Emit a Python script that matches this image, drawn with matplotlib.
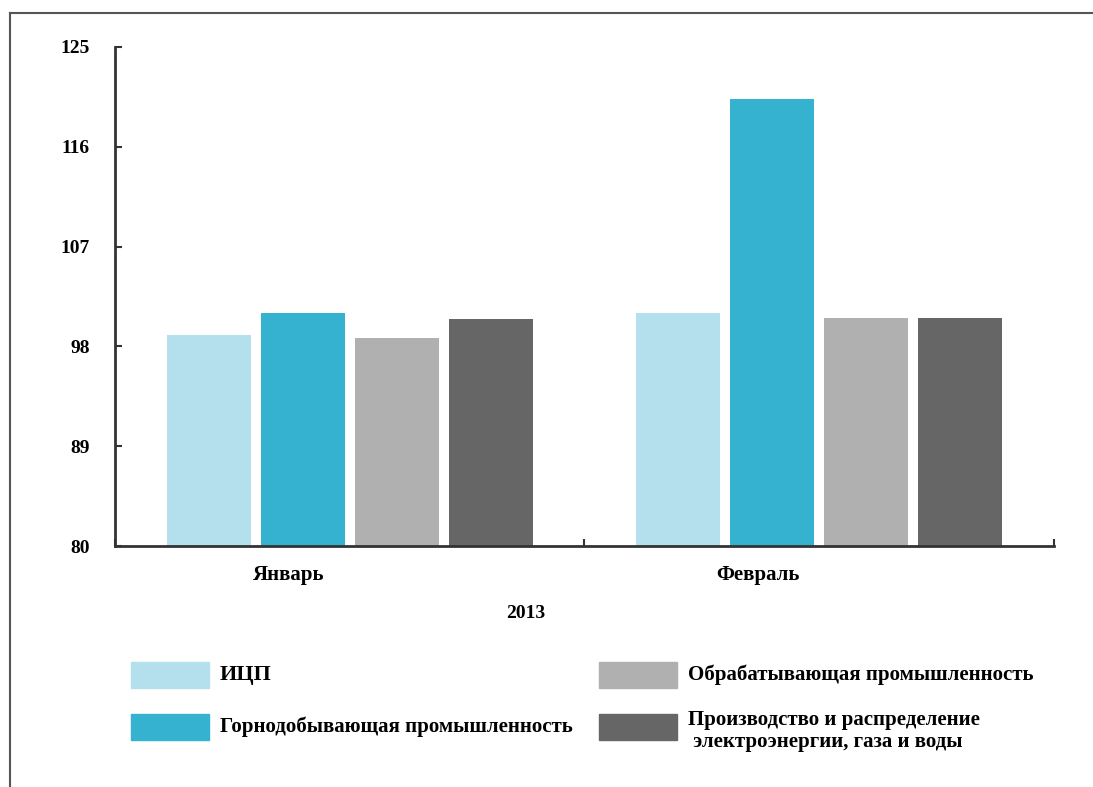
import matplotlib
matplotlib.use("Agg")
import matplotlib.pyplot as plt
from matplotlib.patches import Rectangle
from matplotlib.lines import Line2D
import numpy as np

plt.rcParams['font.family'] = ['Liberation Serif', 'DejaVu Serif']

# data
months = ['Январь', 'Февраль']
series = ['ИЦП', 'Горнодобывающая промышленность',
          'Обрабатывающая промышленность',
          'Производство и распределение\n электроэнергии, газа и воды']
values = {
    'ИЦП': [99.0, 101.0],
    'Горнодобывающая промышленность': [101.0, 120.3],
    'Обрабатывающая промышленность': [98.8, 100.6],
    'Производство и распределение\n электроэнергии, газа и воды': [100.5, 100.6],
}
colors = ['#b3e0ec', '#36b2d1', '#b0b0b0', '#666666']
yticks = [80, 89, 98, 107, 116, 125]
year = '2013'

fig = plt.figure(figsize=(10.93, 7.87), dpi=100)
ax = fig.add_axes([0.1052, 0.3062, 0.8591, 0.6341])

x = np.arange(len(months))
offsets = [-0.3, -0.1, 0.1, 0.3]
for name, off, c in zip(series, offsets, colors):
    ax.bar(x + off, values[name], width=0.179, bottom=0, color=c,
           edgecolor='none')

ax.set_xlim(-0.5, 1.5)
ax.set_ylim(80, 125)
ax.set_yticks(yticks)
ax.set_yticklabels([str(v) for v in yticks], fontsize=14, fontweight='bold')

# category labels (slightly left of centre, as in the source)
ax.set_xticks(x - 0.13)
ax.set_xticklabels(months, fontsize=15, fontweight='bold')
ax.tick_params(axis='x', which='major', length=0, pad=14)
ax.set_xticks([-0.5, 0.5, 1.5], minor=True)
ax.tick_params(axis='x', which='minor', direction='in', length=5, width=1.5,
               color='#333333')
ax.tick_params(axis='y', direction='in', length=5, width=1.5,
               color='#333333', pad=18)

for s in ['top', 'right']:
    ax.spines[s].set_visible(False)
for s in ['left', 'bottom']:
    ax.spines[s].set_linewidth(2)
    ax.spines[s].set_color('#333333')

fig.text(0.481, 0.221, year, fontsize=14, fontweight='bold',
         ha='center', va='center')

# legend drawn by hand
W, H = 1093, 787
pos = [(131, 662), (131, 714), (599, 662), (599, 714)]
for (px, py), name, c in zip(pos, series, colors):
    fig.patches.append(Rectangle((px / W, 1 - (py + 26) / H), 78 / W, 26 / H,
                                 transform=fig.transFigure, color=c))
    ty = py + 13 if '\n' not in name else py + 17
    fig.text((px + 89) / W, 1 - ty / H, name,
             fontsize=16 if name == 'ИЦП' else 15, fontweight='bold',
             ha='left', va='center', linespacing=1.1)

# outer frame (top and left)
fig.lines.append(Line2D([10 / W, 1], [1 - 13 / H, 1 - 13 / H],
                        transform=fig.transFigure, color='#555555', lw=1.5))
fig.lines.append(Line2D([10 / W, 10 / W], [0, 1 - 13 / H],
                        transform=fig.transFigure, color='#555555', lw=1.5))

fig.savefig('out.png', dpi=100)
